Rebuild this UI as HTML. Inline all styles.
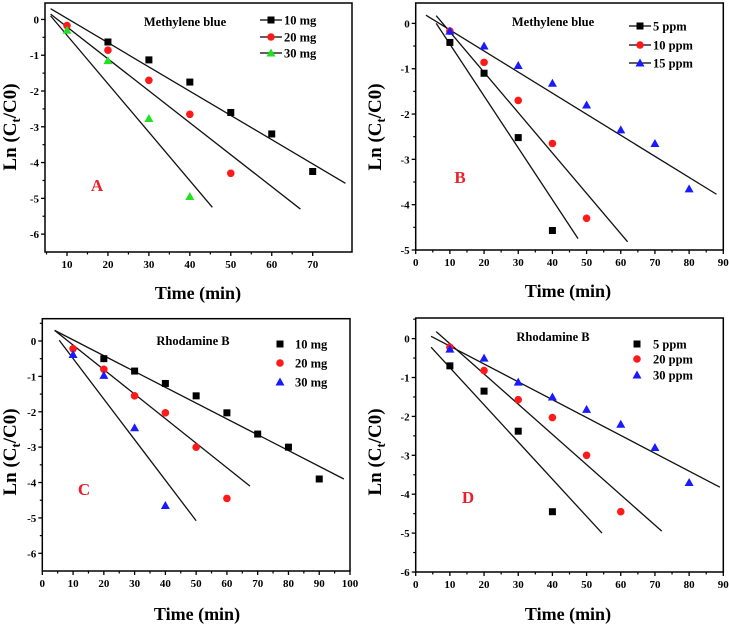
<!DOCTYPE html>
<html><head><meta charset="utf-8"><style>
html,body{margin:0;padding:0;background:#fff;}
svg{display:block;font-family:"Liberation Serif",serif;font-weight:bold;}
</style></head><body>
<svg id="fig" width="729" height="624" viewBox="0 0 729 624" xmlns="http://www.w3.org/2000/svg"></svg>
<script>
// Panel A data
const aX10 = [20,30,40,50,60,70], aY10 = [-0.63,-1.13,-1.75,-2.6,-3.2,-4.25];
const aX20 = [10,20,30,40,50], aY20 = [-0.17,-0.86,-1.7,-2.65,-4.3];
const aX30 = [10,20,30,40], aY30 = [-0.3,-1.15,-2.77,-4.95];
const aFitX = [[6,78],[6,67],[6,45.5]], aFitY = [[0.3,-4.58],[0.15,-5.3],[0.1,-5.25]];
const aXTicks = [10,20,30,40,50,60,70], aYTicks = [0,-1,-2,-3,-4,-5,-6];
const aLegend = ["10 mg","20 mg","30 mg"];
// Panel B data
const bX5 = [10,20,30,40], bY5 = [-0.42,-1.1,-2.52,-4.57];
const bX10 = [10,20,30,40,50], bY10 = [-0.17,-0.86,-1.7,-2.65,-4.3];
const bX15 = [10,20,30,40,50,60,70,80], bY15 = [-0.17,-0.5,-0.93,-1.32,-1.8,-2.35,-2.65,-3.65];
const bFitX = [[6,47.5],[6,62],[3,88]], bFitY = [[0,-4.75],[0.17,-4.82],[0.18,-3.77]];
const bXTicks = [0,10,20,30,40,50,60,70,80,90], bYTicks = [0,-1,-2,-3,-4,-5];
const bLegend = ["5 ppm","10 ppm","15 ppm"];
// Panel C data
const cX10 = [20,30,40,50,60,70,80,90], cY10 = [-0.5,-0.85,-1.2,-1.55,-2.03,-2.63,-3.0,-3.9];
const cX20 = [10,20,30,40,50,60], cY20 = [-0.22,-0.8,-1.55,-2.03,-3.0,-4.45];
const cX30 = [10,20,30,40], cY30 = [-0.38,-0.97,-2.45,-4.65];
const cFitX = [[4,98],[4,67.5],[5.5,50]], cFitY = [[0.3,-3.9],[0.3,-4.1],[0.02,-5.08]];
const cXTicks = [0,10,20,30,40,50,60,70,80,90,100], cYTicks = [0,-1,-2,-3,-4,-5,-6];
const cLegend = ["10 mg","20 mg","30 mg"];
// Panel D data
const dX5 = [10,20,30,40], dY5 = [-0.7,-1.35,-2.38,-4.45];
const dX20 = [10,20,30,40,50,60], dY20 = [-0.22,-0.82,-1.57,-2.03,-3.0,-4.45];
const dX30 = [10,20,30,40,50,60,70,80], dY30 = [-0.27,-0.5,-1.12,-1.5,-1.82,-2.2,-2.8,-3.7];
const dFitX = [[4.5,54.5],[6,72],[4.5,89]], dFitY = [[-0.22,-5.0],[0.18,-4.95],[0.06,-3.82]];
const dXTicks = [0,10,20,30,40,50,60,70,80,90], dYTicks = [0,-1,-2,-3,-4,-5,-6];
const dLegend = ["5  ppm","20 ppm","30 ppm"];

const NS="http://www.w3.org/2000/svg", svg=document.getElementById('fig');
function mk(tag,attrs,parent,text){const e=document.createElementNS(NS,tag);for(const k in attrs)e.setAttribute(k,attrs[k]);if(text!==undefined)e.textContent=text;(parent||svg).appendChild(e);return e;}

function panel(p){
  const g=mk('g',{});
  
  
  const sx=v=>p.L+(v-p.x0)/(p.x1-p.x0)*(p.R-p.L);
  const sy=v=>p.T+(p.y1-v)/(p.y1-p.y0)*(p.B-p.T);
  const fr=mk('rect',{x:p.L,y:p.T,width:p.R-p.L,height:p.B-p.T,fill:'none',stroke:'#000','stroke-width':1.5},g);
  
  
  for(let i=0;i<p.xt.length;i++){
    const v=p.xt[i],x=sx(v);
    mk('line',{x1:x,y1:p.B,x2:x,y2:p.B+4,stroke:'#000','stroke-width':1.3},g);
    const t=mk('text',{x:x,y:p.B+16,'text-anchor':'middle','font-size':11},g,String(v));
    
    
    if(i<p.xt.length-1){const m=sx(v+5);if(m<p.R)mk('line',{x1:m,y1:p.B,x2:m,y2:p.B+2.5,stroke:'#000','stroke-width':1.2},g);}
  }
  const mm=sx(p.xt[0]-5); if(mm>p.L) mk('line',{x1:mm,y1:p.B,x2:mm,y2:p.B+2.5,stroke:'#000','stroke-width':1.2},g);
  for(const v of p.yt){
    const y=sy(v);
    mk('line',{x1:p.L-4,y1:y,x2:p.L,y2:y,stroke:'#000','stroke-width':1.3},g);
    const t=mk('text',{x:p.L-6,y:y+4,'text-anchor':'end','font-size':11},g,String(v));
    
    
    const m=sy(v-0.5); if(m<p.B) mk('line',{x1:p.L-2.5,y1:m,x2:p.L,y2:m,stroke:'#000','stroke-width':1.2},g);
  }
  const m0=sy(0.5); if(m0>p.T) mk('line',{x1:p.L-2.5,y1:m0,x2:p.L,y2:m0,stroke:'#000','stroke-width':1.2},g);
  for(let i=0;i<p.fx.length;i++){
    const l=mk('line',{x1:sx(p.fx[i][0]),y1:sy(p.fy[i][0]),x2:sx(p.fx[i][1]),y2:sy(p.fy[i][1]),stroke:'#111','stroke-width':1.3},g);
    
    
  }
  const shapes=['sq','ci','tr'];
  function marker(type,x,y,c,par){
    let e;
    if(type==='sq') e=mk('rect',{x:x-3.5,y:y-3.5,width:7,height:7,fill:c},par);
    else if(type==='ci') e=mk('circle',{cx:x,cy:y,r:3.8,fill:c},par);
    else e=mk('polygon',{points:`${x},${y-4.5} ${x-4.5},${y+3.5} ${x+4.5},${y+3.5}`,fill:c},par);
    return e;
  }
  for(let s=0;s<3;s++){
    for(let i=0;i<p.xs[s].length;i++){
      const e=marker(shapes[s],sx(p.xs[s][i]),sy(p.ys[s][i]),p.cols[s],g);
      
      
    }
  }
  for(let s=0;s<3;s++){
    const y=p.legY[s];
    const lg=mk('g',{},g);
    
    
    if(p.legLine) mk('line',{x1:p.legX-11,y1:y,x2:p.legX+11,y2:y,stroke:'#000','stroke-width':1.3},lg);
    marker(shapes[s],p.legX,y,p.cols[s],lg);
    mk('text',{x:p.legTX,y:y+4.5,'font-size':12.5,'xml:space':'preserve'},lg,p.leg[s]);
  }
  const tt=mk('text',{x:p.titX,y:p.titY,'text-anchor':'middle','font-size':12.5},g,p.title);
  
  
  const lb=mk('text',{x:p.lbX,y:p.lbY,'text-anchor':'middle','font-size':17,fill:'#e8202a'},g,p.id);
  
  
  const xt=mk('text',{x:p.xtX,y:p.xtY,'text-anchor':'middle','font-size':18},g,'Time (min)');
  
  
  const yt=mk('text',{x:0,y:0,'text-anchor':'middle','font-size':19,transform:`translate(${p.ytX},${p.ytY}) rotate(-90)`},g);
  
  
  mk('tspan',{},yt,'Ln (C');
  mk('tspan',{'font-size':13,dy:4},yt,'t');
  mk('tspan',{dy:-4},yt,'/C0)');
}

panel({id:'A',L:45,R:352,T:3,B:252,x0:4.63,x1:79.6,y0:-6.5,y1:0.46,xt:aXTicks,yt:aYTicks,
  fx:aFitX,fy:aFitY,xs:[aX10,aX20,aX30],ys:[aY10,aY20,aY30],cols:['#000','#ff1a1a','#22e022'],
  leg:aLegend,legLine:true,legX:271,legTX:284,legY:[20,37,53],title:'Methylene blue',titX:185,titY:26,
  lbX:97,lbY:191,xtX:198,xtY:299,ytX:16,ytY:127});
panel({id:'B',L:415.7,R:723.3,T:3,B:250,x0:0,x1:90,y0:-5,y1:0.45,xt:bXTicks,yt:bYTicks,
  fx:bFitX,fy:bFitY,xs:[bX5,bX10,bX15],ys:[bY5,bY10,bY15],cols:['#000','#ff1a1a','#1a1aff'],
  leg:bLegend,legLine:true,legX:640,legTX:653,legY:[26,45,63],title:'Methylene blue',titX:553,titY:26,
  lbX:460,lbY:183,xtX:568,xtY:297,ytX:381,ytY:127});
panel({id:'C',L:42.3,R:350,T:318.7,B:571,x0:0,x1:100,y0:-6.5,y1:0.63,xt:cXTicks,yt:cYTicks,
  fx:cFitX,fy:cFitY,xs:[cX10,cX20,cX30],ys:[cY10,cY20,cY30],cols:['#000','#ff1a1a','#1a1aff'],
  leg:cLegend,legLine:false,legX:280,legTX:295,legY:[344,363,382],title:'Rhodamine B',titX:193,titY:345,
  lbX:84,lbY:495,xtX:197,xtY:620,ytX:16,ytY:452});
panel({id:'D',L:415.7,R:723.3,T:318,B:572,x0:0,x1:90,y0:-6,y1:0.53,xt:dXTicks,yt:dYTicks,
  fx:dFitX,fy:dFitY,xs:[dX5,dX20,dX30],ys:[dY5,dY20,dY30],cols:['#000','#ff1a1a','#1a1aff'],
  leg:dLegend,legLine:false,legX:637,legTX:653,legY:[344,359,375],title:'Rhodamine B',titX:553,titY:341,
  lbX:468,lbY:503,xtX:568,xtY:620,ytX:381,ytY:452});
</script>
</body></html>
